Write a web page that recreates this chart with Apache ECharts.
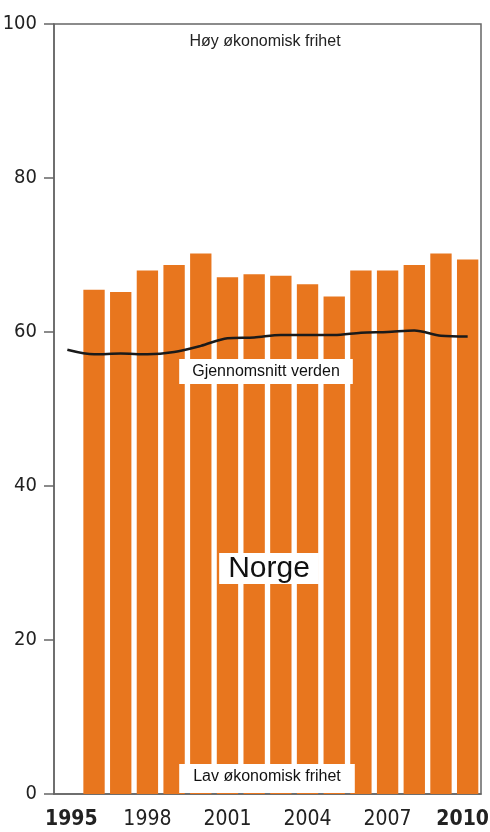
<!DOCTYPE html>
<html>
<head>
<meta charset="utf-8">
<script src="https://cdn.jsdelivr.net/npm/echarts@6/dist/echarts.min.js"></script>
<style>
    html, body { margin: 0; padding: 0; background: #fff; }
    #chart { width: 490px; height: 832px; }
</style>
</head>
<body>
<div id="chart"></div>
<script>
const years = ['1995', '1996', '1997', '1998', '1999', '2000', '2001', '2002', '2003', '2004', '2005', '2006', '2007', '2008', '2009', '2010']
const shownYears = ['1995', '1998', '2001', '2004', '2007', '2010']
// Norge, indeks for økonomisk frihet (ingen søyle for 1995)
const norge = [null, 65.5, 65.2, 68.0, 68.7, 70.2, 67.1, 67.5, 67.3, 66.2, 64.6, 68.0, 68.0, 68.7, 70.2, 69.4]
// gjennomsnitt verden
const verden = [57.7, 57.1, 57.2, 57.1, 57.4, 58.2, 59.2, 59.3, 59.6, 59.6, 59.6, 59.9, 60.0, 60.2, 59.5, 59.4]

const axisFont = "'DejaVu Sans Condensed', 'Liberation Sans Narrow', sans-serif"
const textFont = "'Liberation Sans', Arial, sans-serif"

const myChart = echarts.init(document.getElementById('chart'))

const option = {
    backgroundColor: '#fff',
    animation: false,
    grid: {
        left: 54,
        right: 9,
        top: 24,
        bottom: 38,
        outerBoundsMode: 'none',
        containLabel: false,
        show: true,
        borderColor: '#666',
        borderWidth: 1.5,
        backgroundColor: '#fff',
    },
    xAxis: {
        type: 'category',
        data: years,
        boundaryGap: true,
        axisLine: { show: true, lineStyle: { color: '#666', width: 1.5 } },
        axisTick: { show: false },
        axisLabel: {
            interval: 0,
            margin: 15,
            fontFamily: axisFont,
            fontSize: 21,
            color: '#222',
            formatter: val => {
                if (!shownYears.includes(val)) return ''
                if (val === years[0]) return `{first|${val}}`
                if (val === years[years.length - 1]) return `{last|${val}}`
                return val
            },
            rich: {
                first: { fontFamily: axisFont, fontSize: 21, fontWeight: 'bold', color: '#222', padding: [0, 0, 0, 8] },
                last: { fontFamily: axisFont, fontSize: 21, fontWeight: 'bold', color: '#222', padding: [0, 10, 0, 0] },
            },
        },
        splitLine: { show: false },
    },
    yAxis: {
        type: 'value',
        min: 0,
        max: 100,
        interval: 20,
        axisLine: { show: true, lineStyle: { color: '#666', width: 1.5 } },
        axisTick: { show: true, inside: false, length: 10, lineStyle: { color: '#666', width: 1.5 } },
        axisLabel: {
            margin: 17,
            fontFamily: axisFont,
            fontSize: 20,
            color: '#222',
        },
        splitLine: { show: false },
    },
    series: [
        {
            name: 'Norge',
            type: 'bar',
            data: norge,
            barCategoryGap: '20%',
            itemStyle: { color: '#E8761E' },
            z: 2,
        },
        {
            name: 'Gjennomsnitt verden',
            type: 'line',
            data: verden,
            smooth: 0.3,
            showSymbol: false,
            lineStyle: { color: '#1a1a1a', width: 2.5 },
            z: 3,
        },
    ],
    graphic: [
        {
            type: 'text', z: 100, x: 265, y: 34,
            style: { text: 'Høy økonomisk frihet', font: `16px ${textFont}`, fill: '#222', align: 'center' },
        },
        {
            type: 'text', z: 100, x: 266, y: 359,
            style: {
                text: 'Gjennomsnitt verden', font: `16px ${textFont}`, fill: '#111',
                align: 'center', backgroundColor: '#fff', padding: [5, 13, 4, 13],
            },
        },
        {
            type: 'text', z: 100, x: 269, y: 553,
            style: {
                text: 'Norge', font: `30px ${textFont}`, fill: '#111',
                align: 'center', backgroundColor: '#fff', padding: [1, 9, 0, 9],
            },
        },
        {
            type: 'text', z: 100, x: 267, y: 764,
            style: {
                text: 'Lav økonomisk frihet', font: `16px ${textFont}`, fill: '#111',
                align: 'center', backgroundColor: '#fff', padding: [5, 14, 8, 14],
            },
        },
    ],
}

myChart.setOption(option)
</script>
</body>
</html>
